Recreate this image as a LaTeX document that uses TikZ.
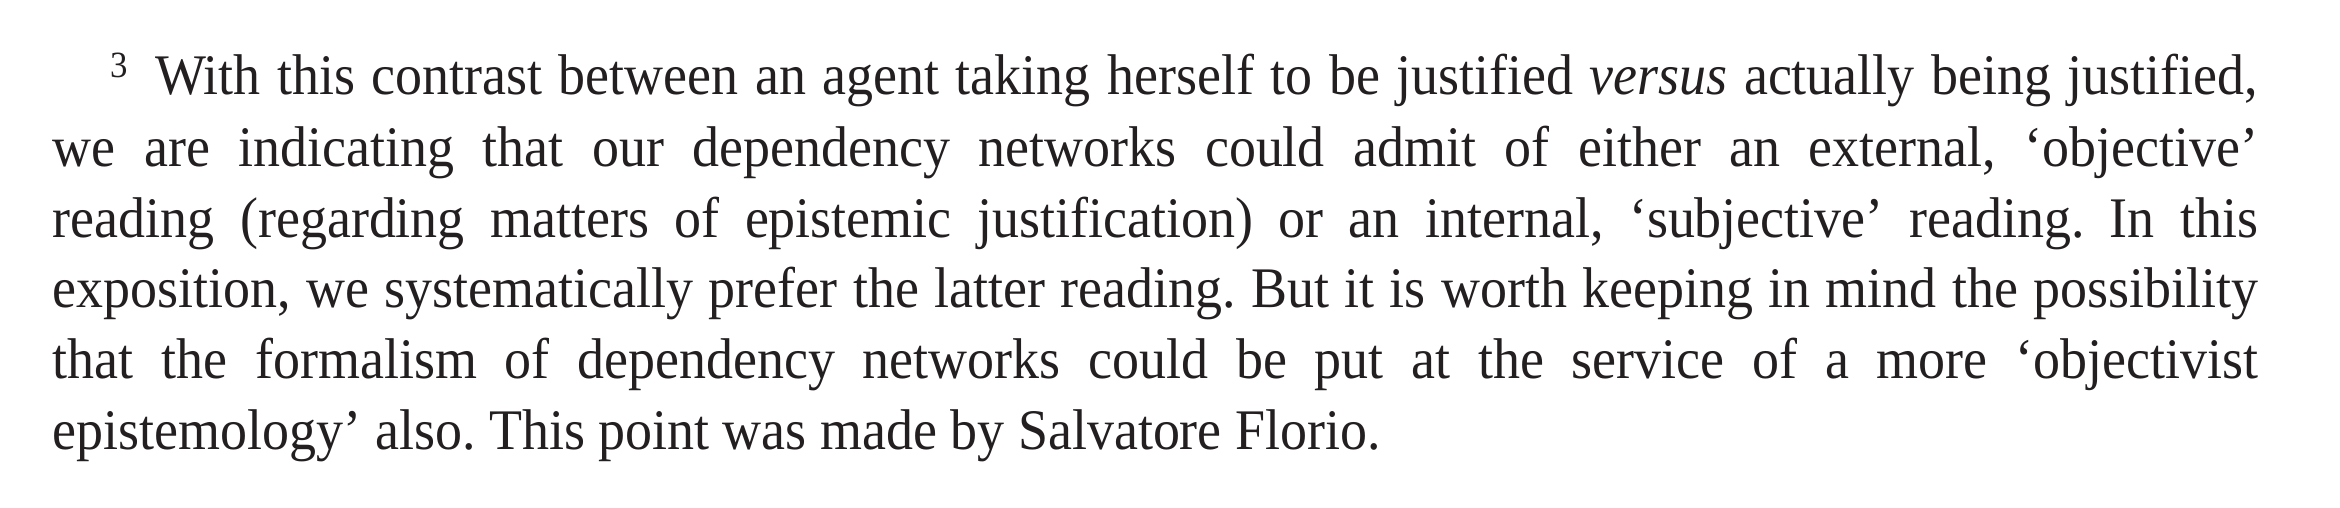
\documentclass[tikz,border=0pt]{standalone}
\usepackage{fontspec}
\setmainfont[FakeStretch=0.94]{Liberation Serif}
\definecolor{ink}{HTML}{231F20}
\frenchspacing
\begin{document}
\begin{tikzpicture}[x=0.5pt,y=-0.5pt,
  txtline/.style={anchor=base west, inner sep=0pt, outer sep=0pt, text=ink,
    font=\fontsize{28.7pt}{34pt}\selectfont},
  fnmark/.style={anchor=base west, inner sep=0pt, outer sep=0pt, text=ink,
    font=\fontsize{18.5pt}{20pt}\selectfont}]
\useasboundingbox (0,0) rectangle (2340,508);
\node[fnmark] (fn) at (110,78) {3};
\node[txtline] (l1) at (155,95) {\hbox to 1051.5pt{With this contrast between an agent taking herself to be justified \textit{versus} actually being justified,}};
\node[txtline] (l2) at (53,166) {\hbox to 1102.5pt{we are indicating that our dependency networks could admit of either an external, ‘objective’}};
\node[txtline] (l3) at (53,237) {\hbox to 1102.5pt{reading (regarding matters of epistemic justification) or an internal, ‘subjective’ reading. In this}};
\node[txtline] (l4) at (53,307) {\hbox to 1102.5pt{exposition, we systematically prefer the latter reading. But it is worth keeping in mind the possibility}};
\node[txtline] (l5) at (53,378) {\hbox to 1102.5pt{that the formalism of dependency networks could be put at the service of a more ‘objectivist}};
\node[txtline] (l6) at (53,449) {epistemology’ also. This point was made by Salvatore Florio.};
\end{tikzpicture}
\end{document}
